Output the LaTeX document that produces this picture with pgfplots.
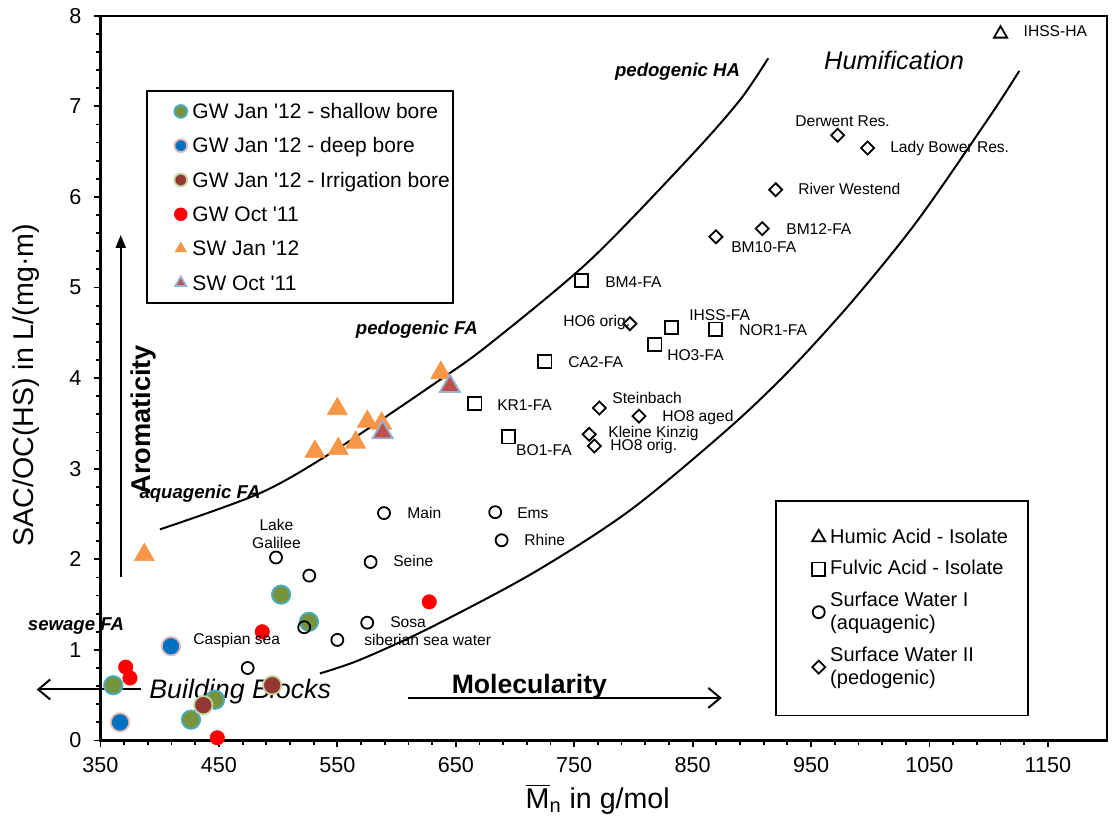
\documentclass[border=0pt]{standalone}
\usepackage{fontspec}
\setmainfont{Liberation Sans}
\usepackage{pgfplots}
\pgfplotsset{compat=1.18}
\usetikzlibrary{arrows.meta}
\definecolor{gwolive}{HTML}{77933C}
\definecolor{gwaqua}{HTML}{4BACC6}
\definecolor{gwblue}{HTML}{0070C0}
\definecolor{gwpink}{HTML}{E6B9B8}
\definecolor{gwbrown}{HTML}{953735}
\definecolor{gwlgreen}{HTML}{C3D69B}
\definecolor{gwred}{HTML}{FF0000}
\definecolor{sworange}{HTML}{F79646}
\definecolor{swred}{HTML}{C0504D}
\definecolor{swblue}{HTML}{95B3D7}
\newcommand{\lbl}{\fontsize{7.8}{8.9}\selectfont}
\newcommand{\q}{\textquotesingle}
\pgfplotsset{
  common/.style={scale only axis, width=503.3pt, height=362.4pt,
    xmin=350, xmax=1200, ymin=0, ymax=8, clip=false},
}
\begin{document}
\begin{tikzpicture}
\useasboundingbox (-50.25pt,-38.75pt) rectangle (506.25pt,370.25pt);
\begin{axis}[common,
  xtick={350,450,...,1150}, ytick={0,1,...,8},
  minor x tick num=4, minor y tick num=4,
  tick align=outside, tick pos=left,
  major tick length=3.3pt, minor tick length=2.4pt,
  every tick/.style={black, line width=0.9pt},
  axis line style={line width=1.1pt},
  /pgf/number format/assume math mode=true,
  /pgf/number format/1000 sep={},
  scaled ticks=false,
  tick label style={font=\fontsize{10.8}{13}\selectfont},
  xticklabel style={inner sep=0pt, yshift=-5pt},
  yticklabel style={inner sep=0pt, xshift=-6pt},
  xlabel={$\overline{\mbox{M}}$\textsubscript{n} in g/mol},
  ylabel={SAC/OC(HS) in L/(mg·m)},
  label style={font=\fontsize{14.3}{17}\selectfont},
  xlabel style={at={(axis description cs:0.494,-0.0935)}, anchor=base},
  ylabel style={at={(axis description cs:-0.0668,0.49)}, anchor=base},
  legend image code/.code={\path (-14.7pt,0pt) (3.2pt,0pt); \draw[#1, mark size=3.2pt] plot coordinates {(0pt,0pt)};},
  legend style={at={(rel axis cs:0.0452,0.8975)}, anchor=north west,
    draw=black, line width=0.9pt, fill=white,
    font=\fontsize{10.5}{12}\selectfont,
    inner xsep=1.8pt, inner ysep=5.5pt, row sep=7.65pt, column sep=2.2pt,
    nodes={inner sep=0pt, text height=8.4pt, text depth=1.1pt},
    cells={anchor=west}},
]
% GW Jan '12 - shallow bore
\addplot[only marks, mark=*, mark size=4.6pt, mark options={fill=gwolive, draw=gwaqua, line width=0.9pt}]
  coordinates {(502.5,1.61) (526.0,1.31) (360.8,0.61) (446.7,0.45) (426.4,0.23)};
\addlegendentry{GW Jan \q12 - shallow bore}
% GW Jan '12 - deep bore
\addplot[only marks, mark=*, mark size=4.6pt, mark options={fill=gwblue, draw=gwpink, line width=0.9pt}]
  coordinates {(409.5,1.04) (366.5,0.20)};
\addlegendentry{GW Jan \q12 - deep bore}
% GW Jan '12 - Irrigation bore
\addplot[only marks, mark=*, mark size=4.6pt, mark options={fill=gwbrown, draw=gwlgreen, line width=0.9pt}]
  coordinates {(495.0,0.61) (436.8,0.39)};
\addlegendentry{GW Jan \q12 - Irrigation bore}
% GW Oct '11
\addplot[only marks, mark=*, mark size=3.6pt, mark options={fill=gwred, draw=gwred, line width=0.3pt}]
  coordinates {(371.3,0.81) (374.9,0.69) (486.6,1.20) (627.6,1.53) (448.6,0.03)};
\addlegendentry{GW Oct \q11}
% SW Jan '12
\addplot[only marks, mark=triangle*, mark size=5.8pt, mark options={fill=sworange, draw=sworange, line width=0.3pt}]
  coordinates {(387.0,2.05) (531.1,3.19) (550.8,3.22) (565.5,3.29) (550.0,3.66) (575.3,3.52) (587.4,3.50) (637.4,4.06)};
\addlegendentry{SW Jan \q12}
% SW Oct '11
\addplot[only marks, mark=triangle*, mark size=5.8pt, mark options={fill=swred, draw=swblue, line width=0.9pt}]
  coordinates {(588.3,3.40) (645.0,3.91)};
\addlegendentry{SW Oct \q11}
% boundary curves
\addplot[black, line width=1pt, smooth, forget plot]
  coordinates {(400.2,2.33) (484.7,2.73) (546.6,3.19) (636.6,3.98) (678.9,4.38) (763.3,5.30) (847.7,6.44) (890,7.07) (913.8,7.53)};
\addplot[black, line width=1pt, smooth, forget plot]
  coordinates {(535.3,0.74) (569,0.89) (627.6,1.24) (715.4,1.85) (797.1,2.54) (880,3.44) (932.1,4.09) (985.6,4.86) (1040,5.74) (1101,6.89) (1125.8,7.39)};
% arrows
\draw[line width=1pt, -{Triangle[length=6.5pt,width=5pt]}] (axis cs:367.1,1.80) -- (axis cs:367.1,5.58);
\draw[line width=1pt, -{Straight Barb[length=6pt,width=10pt]}] (axis cs:383.9,0.563) -- (axis cs:296.1,0.563);
\draw[line width=1pt, -{Straight Barb[length=6pt,width=10pt]}] (axis cs:609.9,0.47) -- (axis cs:874.7,0.47);
% annotations
\node[rotate=90, font=\fontsize{13.6}{16}\selectfont\bfseries] at (axis cs:386.1,3.54) {Aromaticity};
\node[font=\fontsize{13.4}{16}\selectfont\itshape] at (axis cs:468,0.535) {Building Blocks};
\node[font=\fontsize{13.3}{16}\selectfont\bfseries] at (axis cs:712.2,0.59) {Molecularity};
\node[font=\fontsize{12.7}{15}\selectfont\itshape] at (axis cs:1020.1,7.51) {Humification};
\node[font=\fontsize{9.3}{11}\selectfont\bfseries\itshape] at (axis cs:837.3,7.38) {pedogenic HA};
\node[font=\fontsize{9.3}{11}\selectfont\bfseries\itshape] at (axis cs:617.2,4.53) {pedogenic FA};
\node[font=\fontsize{9.3}{11}\selectfont\bfseries\itshape] at (axis cs:434,2.72) {aquagenic FA};
\node[font=\fontsize{9.3}{11}\selectfont\bfseries\itshape] at (axis cs:329.3,1.26) {sewage FA};
\end{axis}
\begin{axis}[common, hide axis,
  legend image code/.code={\path (-11pt,0pt) (3pt,0pt); \draw[#1] plot coordinates {(0pt,0pt)};},
  legend style={at={(rel axis cs:0.670,0.332)}, anchor=north west,
    draw=black, line width=0.9pt, fill=white,
    font=\fontsize{10}{11.7}\selectfont,
    inner xsep=10pt, inner ysep=14pt, row sep=7pt, column sep=2.3pt,
    nodes={inner sep=0pt, align=left},
    cells={anchor=west}},
]
\addplot[only marks, mark=triangle, mark size=3.8pt, mark options={draw=black, line width=0.9pt}]
  coordinates {(1110,7.80)};
\addlegendentry{Humic Acid - Isolate}
\addplot[only marks, mark=square, mark size=3.3pt, mark options={draw=black, line width=0.9pt}]
  coordinates {(756.3,5.08) (832.3,4.56) (869.4,4.54) (818.2,4.37) (725.3,4.18) (694.3,3.35) (666.2,3.72)};
\addlegendentry{Fulvic Acid - Isolate}
\addplot[only marks, mark=o, mark size=3pt, mark options={draw=black, line width=0.9pt}]
  coordinates {(498.2,2.02) (526.3,1.82) (578.1,1.97) (589.4,2.51) (683.3,2.52) (688.7,2.21) (575.2,1.30) (550.0,1.11) (522.0,1.25) (474.3,0.80)};
\addlegendentry{Surface Water I\\(aquagenic)}
\addplot[only marks, mark=square, mark size=2.3pt, mark options={draw=black, line width=0.9pt, rotate=45}]
  coordinates {(797.1,4.60) (771.2,3.67) (804.7,3.58) (762.7,3.38) (767.0,3.25) (972.4,6.68) (997.8,6.54) (920.1,6.08) (908.8,5.65) (869.7,5.56)};
\addlegendentry{Surface Water II\\(pedogenic)}
% point labels
\begin{scope}[every node/.style={anchor=west, inner sep=0pt, font=\lbl}]
\node at (axis cs:608.8,2.51) {Main};
\node at (axis cs:701.6,2.51) {Ems};
\node at (axis cs:707.6,2.21) {Rhine};
\node at (axis cs:596.9,1.98) {Seine};
\node at (axis cs:594.4,1.31) {Sosa};
\node at (axis cs:572.5,1.11) {siberian sea water};
\node at (axis cs:428.1,1.10) {Caspian sea};
\node at (axis cs:936.4,6.84) {Derwent Res.};
\node at (axis cs:1016.6,6.54) {Lady Bower Res.};
\node at (axis cs:938.9,6.09) {River Westend};
\node at (axis cs:928.8,5.65) {BM12-FA};
\node at (axis cs:882.3,5.45) {BM10-FA};
\node at (axis cs:775.9,5.06) {BM4-FA};
\node at (axis cs:740.5,4.61) {HO6 orig.};
\node at (axis cs:846.9,4.69) {IHSS-FA};
\node at (axis cs:889.1,4.53) {NOR1-FA};
\node at (axis cs:828.3,4.25) {HO3-FA};
\node at (axis cs:744.7,4.18) {CA2-FA};
\node at (axis cs:684.7,3.70) {KR1-FA};
\node at (axis cs:781.9,3.78) {Steinbach};
\node at (axis cs:824.1,3.56) {HO8 aged};
\node at (axis cs:778.5,3.39) {Kleine Kinzig};
\node at (axis cs:780.2,3.24) {HO8 orig.};
\node at (axis cs:700.7,3.20) {BO1-FA};
\node at (axis cs:1129.2,7.83) {IHSS-HA};
\end{scope}
\node[anchor=center, inner sep=0pt, align=center, font=\lbl] at (axis cs:498.6,2.28) {Lake\\Galilee};
\end{axis}
\end{tikzpicture}
\end{document}
